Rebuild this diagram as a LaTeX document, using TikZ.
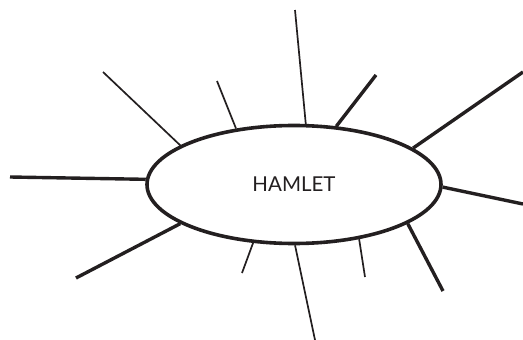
\documentclass[tikz,border=0pt]{standalone}
\usepackage{fontspec}
\newfontfamily\hamletfont{Lato}
\definecolor{inkdark}{RGB}{35, 31, 32}
\usetikzlibrary{shapes.geometric}

\begin{document}
\begin{tikzpicture}[
    x=1pt, y=-1pt,
    hub/.style={draw=inkdark, ellipse, line width=3.6pt, minimum width=294pt, minimum height=118pt, inner sep=0pt, font=\hamletfont\fontsize{20.5}{24}\selectfont, text=inkdark},
    spoke/.style={draw=inkdark, line width=3.4pt},
    twig/.style={draw=inkdark, line width=1.7pt},
  ]
  \useasboundingbox (0,0) rectangle (523,340);

  % Centre
  \node[hub] (hamlet) at (294,184.5) {HAMLET};

  % Free ends
  \coordinate (endtop) at (295,10);
  \coordinate (endtopright) at (376,75);
  \coordinate (endnortheast) at (523,72);
  \coordinate (endright) at (523,204);
  \coordinate (endsoutheast) at (443,291);
  \coordinate (endbotright) at (365,277);
  \coordinate (endbottom) at (315,340);
  \coordinate (endbotleft) at (242,273);
  \coordinate (endsouthwest) at (76,278);
  \coordinate (endleft) at (10,177);
  \coordinate (endnorthwest) at (103,72);
  \coordinate (endtopleft) at (217,81);

  % Thick spokes
  \draw[spoke] (hamlet.54.5) -- (endtopright);
  \draw[spoke] (hamlet.17.5) -- (endnortheast);
  \draw[spoke] (hamlet.-1.75) -- (endright);
  \draw[spoke] (hamlet.-19.7) -- (endsoutheast);
  \draw[spoke] (hamlet.-161.3) -- (endsouthwest);
  \draw[spoke] (hamlet.178.6) -- (endleft);

  % Thin spokes
  \draw[twig] (hamlet.79.5) -- (endtop);
  \draw[twig] (hamlet.-40.9) -- (endbotright);
  \draw[twig] (hamlet.-89) -- (endbottom);
  \draw[twig] (hamlet.-125) -- (endbotleft);
  \draw[twig] (hamlet.161.8) -- (endnorthwest);
  \draw[twig] (hamlet.136.7) -- (endtopleft);

\end{tikzpicture}
\end{document}
